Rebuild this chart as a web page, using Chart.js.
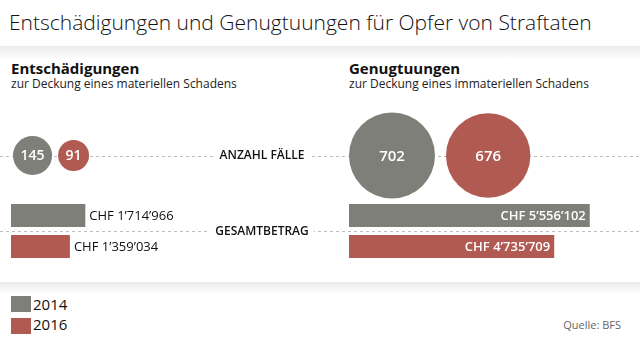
<!DOCTYPE html>
<html><head><meta charset="utf-8">
<script src="https://cdn.jsdelivr.net/npm/chart.js@4"></script>
<style>
body{margin:0;background:#fff;}
#wrap{position:relative;width:640px;height:348px;overflow:hidden;font-family:"Open Sans","Noto Sans",sans-serif;color:#111;background:#fff;}
.abs{position:absolute;line-height:1;white-space:nowrap;}
canvas{position:absolute;}
</style></head>
<body><div id="wrap">
<div class="abs" style="left:9px;top:12px;font-size:21px;font-weight:300;color:#111;">Entschädigungen und Genugtuungen für Opfer von Straftaten</div>
<div class="abs" style="left:0;top:46px;width:640px;height:14px;background:linear-gradient(#ebebeb,#ffffff);"></div>
<div class="abs" style="left:0;top:282px;width:640px;height:13px;background:linear-gradient(#ebebeb,#ffffff);"></div>
<div class="abs" id="h0" style="left:11px;top:61px;font-size:15px;font-weight:700;"></div>
<div class="abs" id="s0" style="left:11px;top:78px;font-size:12px;color:#222;"></div>
<div class="abs" id="h1" style="left:349px;top:61px;font-size:15px;font-weight:700;"></div>
<div class="abs" id="s1" style="left:349px;top:78px;font-size:12px;color:#222;"></div>
<canvas id="bub" width="640" height="111" style="left:0;top:100px;"></canvas>
<canvas id="bar0" width="330" height="62" style="left:0;top:200px;"></canvas>
<canvas id="bar1" width="310" height="62" style="left:330px;top:200px;"></canvas>
<div id="legend"></div>
<div class="abs" style="right:19px;top:319px;font-size:11px;color:#666;">Quelle: BFS</div>
</div>
<script>
const years = ['2014', '2016'];
const panelTitles = ['Entschädigungen', 'Genugtuungen'];
const panelSubtitles = ['zur Deckung eines materiellen Schadens', 'zur Deckung eines immateriellen Schadens'];
const cases2014 = [145, 702];
const cases2016 = [91, 676];
const amount2014 = [1714966, 5556102];
const amount2016 = [1359034, 4735709];
const rowLabels = ['ANZAHL FÄLLE', 'GESAMTBETRAG'];

const colors = ['#7e7f78', '#b05a52'];
const FONT = '"Open Sans","Noto Sans",sans-serif';
const panelLeft = [13, 349];
const panelGap = [6, 11];
const rK = 43 / Math.sqrt(702);
const labelCenterX = 262;

panelTitles.forEach((t, i) => { document.getElementById('h' + i).textContent = t; });
panelSubtitles.forEach((t, i) => { document.getElementById('s' + i).textContent = t; });

// legend
const lg = document.getElementById('legend');
years.forEach((y, i) => {
  const sq = document.createElement('div');
  sq.className = 'abs';
  sq.style.cssText = `left:11px;top:${296 + i * 22}px;width:20px;height:16px;background:${colors[i]};`;
  lg.appendChild(sq);
  const tx = document.createElement('div');
  tx.className = 'abs';
  tx.style.cssText = `left:33px;top:${297 + i * 20}px;font-size:15px;color:#111;`;
  tx.textContent = y;
  lg.appendChild(tx);
});

function fmt(n) { return String(n).replace(/\B(?=(\d{3})+(?!\d))/g, '\u2019'); }

function dashedRow(ctx, y, x0, x1, label, lx) {
  ctx.save();
  ctx.strokeStyle = '#bdbdbd';
  ctx.lineWidth = 1;
  ctx.setLineDash([3, 3]);
  ctx.beginPath();
  ctx.moveTo(x0, Math.round(y) + 0.5);
  ctx.lineTo(x1, Math.round(y) + 0.5);
  ctx.stroke();
  if (label) {
    ctx.font = '600 12px ' + FONT;
    const w = ctx.measureText(label).width;
    ctx.fillStyle = '#fff';
    ctx.fillRect(lx - w / 2 - 5, y - 8, w + 10, 16);
    ctx.fillStyle = '#111';
    ctx.textAlign = 'center';
    ctx.textBaseline = 'middle';
    ctx.fillText(label, lx, y + 0.5);
  }
  ctx.restore();
}

// bubbles
const bubbleData = [[], []];
for (let p = 0; p < 2; p++) {
  const r1 = rK * Math.sqrt(cases2014[p]);
  const r2 = rK * Math.sqrt(cases2016[p]);
  const x1 = panelLeft[p] + r1;
  const x2 = x1 + r1 + panelGap[p] + r2;
  bubbleData[0].push({ x: x1, y: 0, r: r1, v: cases2014[p] });
  bubbleData[1].push({ x: x2, y: 0, r: r2, v: cases2016[p] });
}

new Chart(document.getElementById('bub'), {
  type: 'bubble',
  data: {
    datasets: years.map((y, i) => ({
      label: y, data: bubbleData[i], backgroundColor: colors[i], borderWidth: 0, hoverBorderWidth: 0
    }))
  },
  options: {
    responsive: false, animation: false, devicePixelRatio: 1,
    layout: { padding: 0, autoPadding: false },
    plugins: { legend: { display: false }, tooltip: { enabled: false } },
    scales: {
      x: { type: 'linear', min: 0, max: 640, display: false },
      y: { type: 'linear', min: -1, max: 1, display: false }
    },
    clip: false
  },
  plugins: [{
    id: 'row',
    beforeDatasetsDraw(chart) {
      const y = chart.scales.y.getPixelForValue(0);
      dashedRow(chart.ctx, y, 0, chart.width, rowLabels[0], labelCenterX);
    },
    afterDatasetsDraw(chart) {
      const ctx = chart.ctx;
      ctx.save();
      ctx.fillStyle = '#fff';
      ctx.textAlign = 'center';
      ctx.textBaseline = 'middle';
      chart.data.datasets.forEach((ds, di) => {
        chart.getDatasetMeta(di).data.forEach((el, j) => {
          const v = ds.data[j].v;
          ctx.font = '600 ' + (ds.data[j].r > 30 ? 15 : 14) + 'px ' + FONT;
          ctx.fillText(String(v), el.x, el.y + 1);
        });
      });
      ctx.restore();
    }
  }]
});

// bars
const barPad = [{ left: 11, right: 59 }, { left: 19, right: 31 }];
for (let p = 0; p < 2; p++) {
  new Chart(document.getElementById('bar' + p), {
    type: 'bar',
    data: {
      labels: years,
      datasets: [{ data: [amount2014[p], amount2016[p]], backgroundColor: colors, borderWidth: 0,
        categoryPercentage: 1, barPercentage: 0.74 }]
    },
    options: {
      indexAxis: 'y',
      responsive: false, animation: false, devicePixelRatio: 1,
      layout: { padding: { left: barPad[p].left, right: barPad[p].right, top: 0, bottom: 0 } },
      plugins: { legend: { display: false }, tooltip: { enabled: false } },
      scales: {
        x: { type: 'linear', min: 0, max: 6000000, display: false },
        y: { display: false }
      }
    },
    plugins: [{
      id: 'row' + p,
      beforeDatasetsDraw(chart) {
        const a = chart.chartArea;
        const y = (a.top + a.bottom) / 2;
        dashedRow(chart.ctx, y, 0, chart.width, p === 0 ? rowLabels[1] : null, labelCenterX);
      },
      afterDatasetsDraw(chart) {
        const ctx = chart.ctx;
        ctx.save();
        ctx.textBaseline = 'middle';
        const ds = chart.data.datasets[0];
        chart.getDatasetMeta(0).data.forEach((el, j) => {
          const txt = 'CHF ' + fmt(ds.data[j]);
          ctx.font = '500 13px ' + FONT;
          const w = ctx.measureText(txt).width;
          const bw = el.x - el.base;
          if (bw > w + 14) {
            ctx.font = '600 13px ' + FONT;
            ctx.fillStyle = '#fff';
            ctx.textAlign = 'right';
            ctx.fillText(txt, el.x - 4, el.y + 1);
          } else {
            ctx.fillStyle = '#111';
            ctx.textAlign = 'left';
            ctx.fillText(txt, el.x + 4, el.y + 1);
          }
        });
        ctx.restore();
      }
    }]
  });
}
</script>
</body></html>
